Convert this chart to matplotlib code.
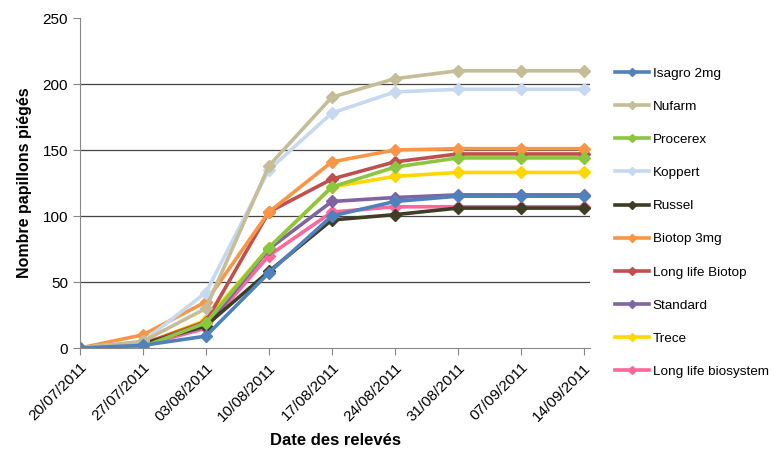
import numpy as np
import matplotlib
matplotlib.use("Agg")
import matplotlib.pyplot as plt

plt.rcParams['font.family'] = ['Liberation Sans', 'DejaVu Sans']

dates = ['20/07/2011', '27/07/2011', '03/08/2011', '10/08/2011', '17/08/2011',
         '24/08/2011', '31/08/2011', '07/09/2011', '14/09/2011']

isagro = [0, 2, 9, 57, 100, 111, 115, 115, 115]
nufarm = [0, 5, 30, 138, 190, 204, 210, 210, 210]
procerex = [0, 1, 19, 76, 122, 137, 144, 144, 144]
koppert = [0, 5, 42, 135, 178, 194, 196, 196, 196]
russel = [0, 3, 17, 58, 97, 101, 106, 106, 106]
biotop = [0, 10, 35, 103, 141, 150, 151, 151, 151]
longlife_biotop = [0, 3, 20, 103, 128, 141, 147, 147, 147]
standard = [0, 4, 16, 75, 111, 114, 116, 116, 116]
trece = [0, 3, 21, 76, 122, 130, 133, 133, 133]
longlife_biosys = [0, 2, 15, 70, 103, 107, 107, 107, 107]

series = [
    ("Isagro 2mg", isagro, "#4F81BD"),
    ("Nufarm", nufarm, "#C4BD97"),
    ("Procerex", procerex, "#8CC63F"),
    ("Koppert", koppert, "#C6D9F1"),
    ("Russel", russel, "#3F3D26"),
    ("Biotop 3mg", biotop, "#F79646"),
    ("Long life Biotop", longlife_biotop, "#C0504D"),
    ("Standard", standard, "#8064A2"),
    ("Trece", trece, "#FFD700"),
    ("Long life biosystem", longlife_biosys, "#FF6699"),
]

fig = plt.figure(figsize=(7.74, 4.5), dpi=100)
ax = fig.add_axes([80 / 774, 1 - 348 / 450, (590 - 80) / 774, 330 / 450])

x = np.arange(len(dates))
# draw in reverse so the first series sit on top, as in the original
handles = {}
for name, vals, col in series[::-1]:
    h, = ax.plot(x, vals, color=col, lw=2.6, marker='D', markersize=6.5,
                 markeredgecolor=col, label=name)
    handles[name] = h

ax.set_xlim(0, 8.1)
ax.set_ylim(0, 250)
ax.set_yticks([0, 50, 100, 150, 200, 250])
ax.set_xticks(x)
ax.set_xticklabels(dates, rotation=45, ha='right', rotation_mode='anchor')
ax.tick_params(axis='both', labelsize=11, color='#888888', length=5)
ax.tick_params(axis='x', pad=4)
for yv in [50, 100, 150, 200]:
    ax.axhline(yv, color='#444444', lw=0.9, zorder=0)
ax.spines['top'].set_visible(False)
ax.spines['right'].set_visible(False)
ax.spines['left'].set_color('#888888')
ax.spines['bottom'].set_color('#888888')

ax.set_ylabel("Nombre papillons piégés", fontsize=11.5, fontweight='bold', labelpad=8)
ax.set_xlabel("Date des relevés", fontsize=12, fontweight='bold', labelpad=7)

leg_handles = [handles[s[0]] for s in series]
fig.legend(leg_handles, [s[0] for s in series], loc='upper left',
           bbox_to_anchor=(603 / 774, 1 - 55 / 450), frameon=False,
           fontsize=9.7, labelspacing=1.54, handlelength=2.5,
           handletextpad=0.3, markerscale=0.6)

fig.savefig("out.png", dpi=100)
